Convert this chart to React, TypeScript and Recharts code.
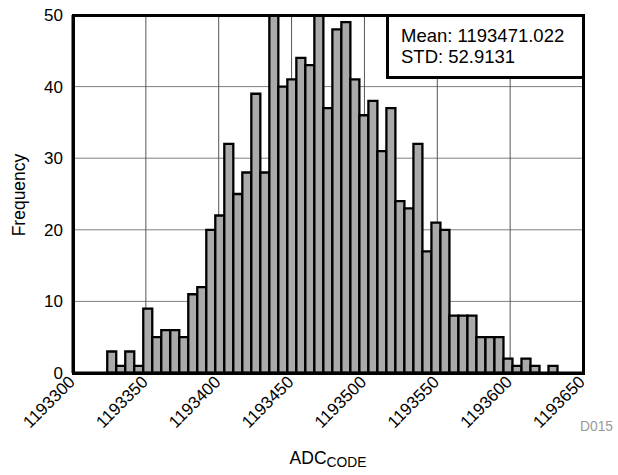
import { BarChart, Bar, XAxis, YAxis, CartesianGrid } from "recharts";

// histogram counts, 50 bins of ADC output codes
const counts = [
  3, 1, 3, 1, 9, 5, 6, 6, 5, 11, 12, 20, 22, 32, 25, 28, 39, 28, 50, 40, 41, 44, 43, 50, 37,
  48, 49, 41, 36, 38, 31, 37, 24, 23, 32, 17, 21, 20, 8, 8, 8, 5, 5, 5, 2, 1, 2, 1, 0, 1,
];
const binStart = 1193323.5;
const binWidth = 6.18;

const xTicks = [1193300, 1193350, 1193400, 1193450, 1193500, 1193550, 1193600, 1193650];
const yTicks = [0, 10, 20, 30, 40, 50];

const meanLabel = "Mean: 1193471.022";
const stdLabel = "STD: 52.9131";

const FONT = '"Liberation Sans", Arial, sans-serif';
const frame = { stroke: "#000", strokeWidth: 3 };

const data = counts.map((count, i) => ({
  code: binStart + binWidth * (i + 0.5),
  count,
}));

function CodeTick({ x, y, payload }: any) {
  const ax = x + 3;
  const ay = y + 2;
  return (
    <text
      x={ax}
      y={ay}
      transform={`rotate(-45, ${ax}, ${ay})`}
      textAnchor="end"
      fontSize={17}
      fontFamily={FONT}
      fill="#000"
    >
      {payload.value}
    </text>
  );
}

export default function App() {
  return (
    <div style={{ position: "absolute", left: 0, top: 0, width: 618, height: 475, fontFamily: FONT }}>
      <BarChart
        width={618}
        height={475}
        data={data}
        margin={{ top: 15, right: 35, bottom: 0, left: 0 }}
        barCategoryGap={0}
        barGap={0}
      >
        <CartesianGrid vertical={false} stroke="#808080" strokeWidth={1} />
        <CartesianGrid horizontal={false} stroke="#555" strokeWidth={1} />
        <XAxis
          dataKey="code"
          type="number"
          domain={[1193300, 1193650]}
          ticks={xTicks}
          interval={0}
          allowDataOverflow
          tickLine={false}
          axisLine={frame}
          height={102}
          tick={<CodeTick />}
        />
        <YAxis
          type="number"
          domain={[0, 50]}
          ticks={yTicks}
          allowDataOverflow
          tickLine={false}
          axisLine={frame}
          width={73}
          tickMargin={4}
          tick={{ fontSize: 17, fill: "#000", fontFamily: FONT }}
        />
        <Bar dataKey="count" fill="#aaaaaa" stroke="#000" strokeWidth={2.3} isAnimationActive={false} />
      </BarChart>

      {/* plot frame */}
      <div
        style={{
          position: "absolute",
          left: 71.5,
          top: 13.5,
          width: 513,
          height: 361,
          boxSizing: "border-box",
          border: "3px solid #000",
          pointerEvents: "none",
        }}
      />

      <div
        style={{
          position: "absolute",
          left: 20,
          top: 195,
          transform: "translate(-50%, -50%) rotate(-90deg)",
          fontSize: 17.5,
          lineHeight: 1,
          whiteSpace: "nowrap",
        }}
      >
        Frequency
      </div>

      <div
        style={{
          position: "absolute",
          left: 328,
          top: 450,
          transform: "translateX(-50%)",
          fontSize: 17.5,
          lineHeight: 1,
          whiteSpace: "nowrap",
        }}
      >
        ADC<span style={{ fontSize: 13.8, position: "relative", top: 3 }}>CODE</span>
      </div>

      <div
        style={{
          position: "absolute",
          left: 580,
          top: 420,
          fontSize: 13.8,
          lineHeight: 1,
          color: "#999",
        }}
      >
        D015
      </div>

      <div
        style={{
          position: "absolute",
          left: 385.5,
          top: 13.5,
          width: 199,
          height: 65.5,
          boxSizing: "border-box",
          border: "3px solid #000",
          background: "#fff",
        }}
      />
      <div
        style={{
          position: "absolute",
          left: 401,
          top: 24.5,
          fontSize: 18.5,
          lineHeight: "21.6px",
          whiteSpace: "nowrap",
        }}
      >
        <div>{meanLabel}</div>
        <div>{stdLabel}</div>
      </div>
    </div>
  );
}
